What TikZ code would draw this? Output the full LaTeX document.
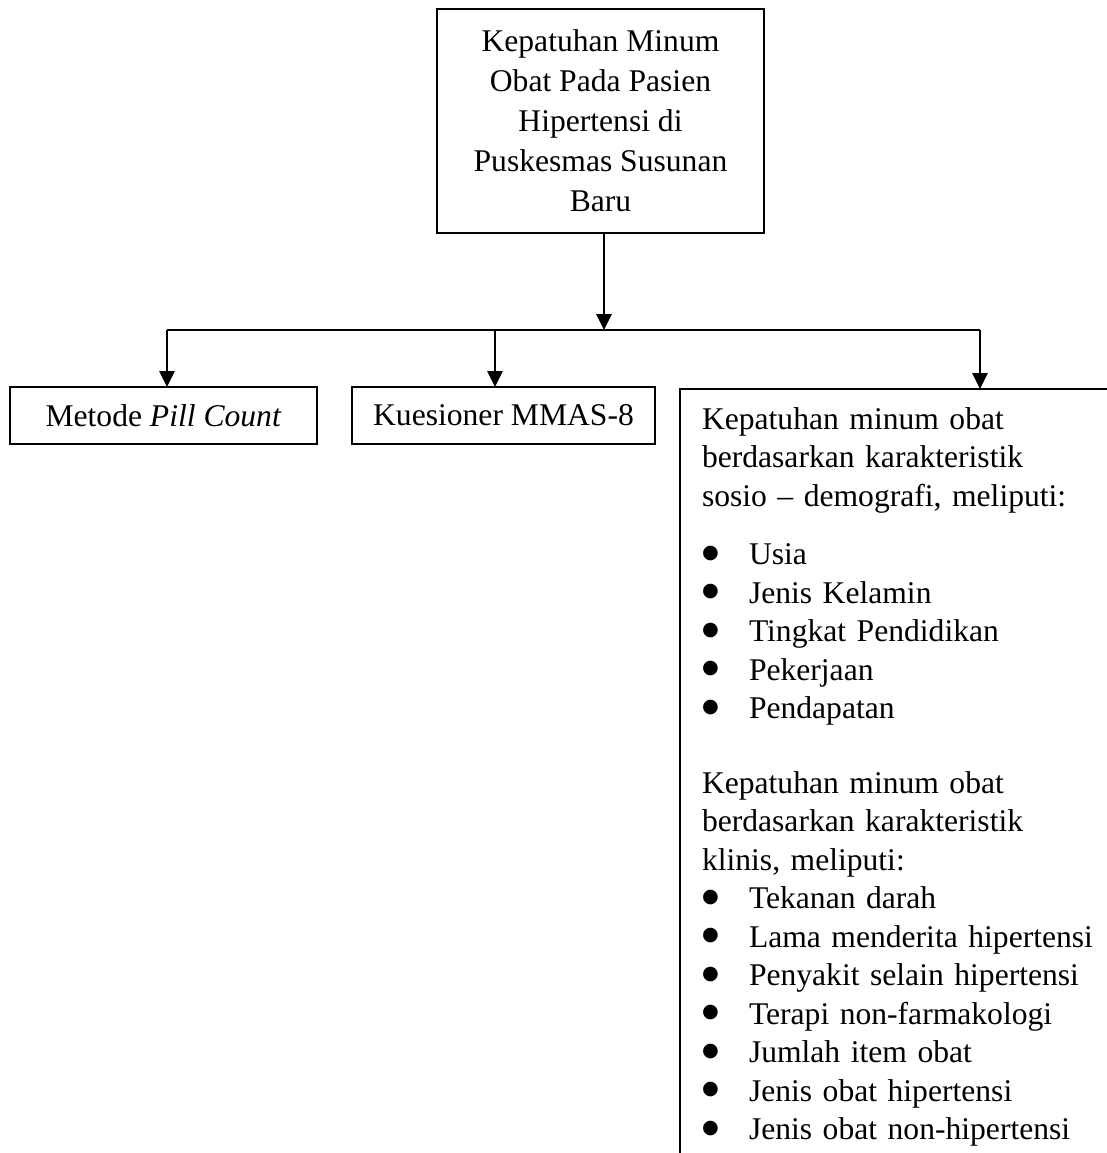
\documentclass[tikz,border=0pt]{standalone}
\usepackage{fontspec}
\setmainfont{Liberation Serif}
\newfontfamily\bulfont{DejaVu Sans}
\usetikzlibrary{arrows.meta}
\newcommand{\myitem}[1]{\makebox[23.5pt][l]{\raisebox{3.3pt}{\fontsize{9.6pt}{10pt}\bulfont ●}}#1}
\begin{document}
\begin{tikzpicture}[x=0.5pt,y=-0.5pt,
  boxline/.style={draw=black,line width=1.4pt},
  tbox/.style={boxline,align=center,inner sep=0pt,outer sep=0pt,font=\fontsize{15.8pt}{20pt}\selectfont},
  lbl/.style={inner xsep=11pt,inner ysep=9.2pt,outer sep=0pt,align=left,text width=230pt,font=\fontsize{15.8pt}{19.25pt}\selectfont},
  conn/.style={line width=0.85pt},
  arr/.style={line width=1.4pt,-{Triangle[width=7.5pt,length=8pt]}}
]
\useasboundingbox (0,0) rectangle (1107,1153);
\clip (0,0) rectangle (1107,1153);
\node[tbox,minimum width=163.5pt,minimum height=112pt] (top) at (600.5,121)
  {Kepatuhan Minum\\Obat Pada Pasien\\Hipertensi di\\Puskesmas Susunan\\Baru};
\node[tbox,minimum width=153.5pt,minimum height=28.5pt] (pc) at (163.5,415.5)
  {Metode \textit{Pill Count}};
\node[tbox,minimum width=151.5pt,minimum height=28.5pt] (mm) at (503.5,415.5)
  {Kuesioner MMAS-8};
\node[lbl,anchor=north west] (crit) at (680,389) {Kepatuhan minum obat\\
berdasarkan karakteristik\\
sosio – demografi, meliputi:\\[10pt]
\myitem{Usia}\\
\myitem{Jenis Kelamin}\\
\myitem{Tingkat Pendidikan}\\
\myitem{Pekerjaan}\\
\myitem{Pendapatan}\\[18pt]
Kepatuhan minum obat\\
berdasarkan karakteristik\\
klinis, meliputi:\\
\myitem{Tekanan darah}\\
\myitem{Lama menderita hipertensi}\\
\myitem{Penyakit selain hipertensi}\\
\myitem{Terapi non-farmakologi}\\
\myitem{Jumlah item obat}\\
\myitem{Jenis obat hipertensi}\\
\myitem{Jenis obat non-hipertensi}};
\draw[boxline] (crit.north west) rectangle ++(560,820);
\coordinate (hl) at (167,330);
\coordinate (hm) at (495,330);
\coordinate (hr) at (980,330);
\coordinate (ht) at ([xshift=1.75pt]top.south);
\draw[conn] (hl) -- (hr);
\draw[arr] (ht) -- (ht |- hl);
\draw[arr] (hl) -- (hl |- pc.north);
\draw[arr] (hm) -- (hm |- mm.north);
\draw[arr] (hr) -- (hr |- crit.north);
\end{tikzpicture}
\end{document}
